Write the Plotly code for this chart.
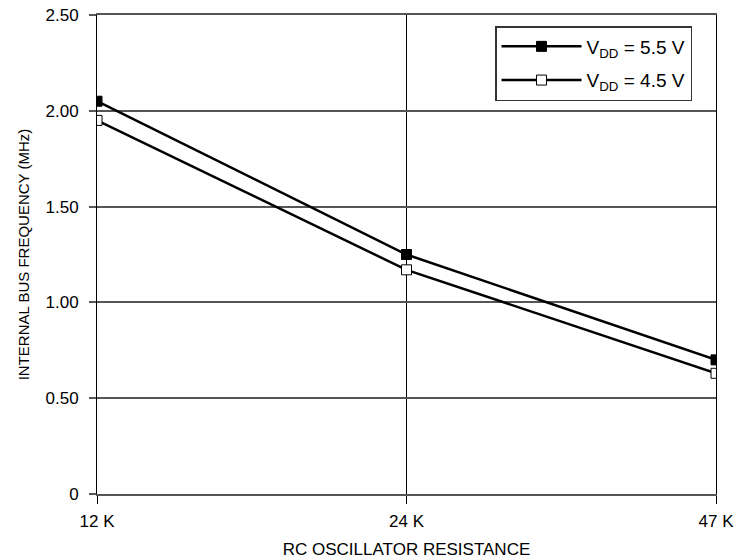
import plotly.graph_objects as go

resistance = ["12 K", "24 K", "47 K"]
freq_55v = [2.05, 1.25, 0.70]
freq_45v = [1.95, 1.17, 0.63]
y_ticks = [0, 0.5, 1.0, 1.5, 2.0, 2.5]
y_tick_labels = ["0", "0.50", "1.00", "1.50", "2.00", "2.50"]

FONT = "Liberation Sans, Arial, sans-serif"

fig = go.Figure()
fig.add_trace(go.Scatter(
    x=resistance, y=freq_55v, mode="lines+markers",
    name="V<sub>DD</sub> = 5.5 V", legendgroup="a",
    line=dict(color="black", width=2.5),
    marker=dict(symbol="square", size=10, color="black",
                line=dict(color="black", width=1)),
))
fig.add_trace(go.Scatter(
    x=resistance, y=freq_45v, mode="lines+markers",
    name="V<sub>DD</sub> = 4.5 V", legendgroup="b",
    line=dict(color="black", width=2.5),
    marker=dict(symbol="square", size=10, color="white",
                line=dict(color="black", width=1)),
))

fig.update_layout(
    width=737, height=559,
    margin=dict(l=97, r=21, t=15, b=65),
    plot_bgcolor="white", paper_bgcolor="white",
    font=dict(family=FONT, size=17, color="black"),
    showlegend=True,
    legend=dict(
        x=0.643, y=0.977, xanchor="left", yanchor="top",
        bgcolor="white", bordercolor="#333", borderwidth=1.5,
        font=dict(size=19), tracegroupgap=6, itemwidth=80,
    ),
    xaxis=dict(
        type="category", range=[0, 2], automargin=False,
        showgrid=True, gridcolor="black", gridwidth=1,
        ticks="outside", ticklen=8, tickcolor="black", tickwidth=1,
        ticklabelstandoff=3,
        showline=True, mirror=True, linecolor="#555", linewidth=2,
        zeroline=False,
        title=dict(text="RC OSCILLATOR RESISTANCE", standoff=20,
                   font=dict(size=17)),
        tickfont=dict(size=17),
    ),
    yaxis=dict(
        range=[0, 2.5], tickvals=y_ticks, ticktext=y_tick_labels,
        automargin=False,
        showgrid=True, gridcolor="#555", gridwidth=2,
        ticks="outside", ticklen=7, tickcolor="#555", tickwidth=2,
        ticklabelstandoff=7,
        showline=True, mirror=True, linecolor="black", linewidth=1,
        zeroline=False,
        title=dict(text="INTERNAL BUS FREQUENCY (MHz)", standoff=12,
                   font=dict(size=15)),
        tickfont=dict(size=17),
    ),
)

# drop the default page margin so the figure sits at the window's top-left
fig.write_html("out.html", config={"displayModeBar": False},
               post_script="document.body.style.margin='0';")
